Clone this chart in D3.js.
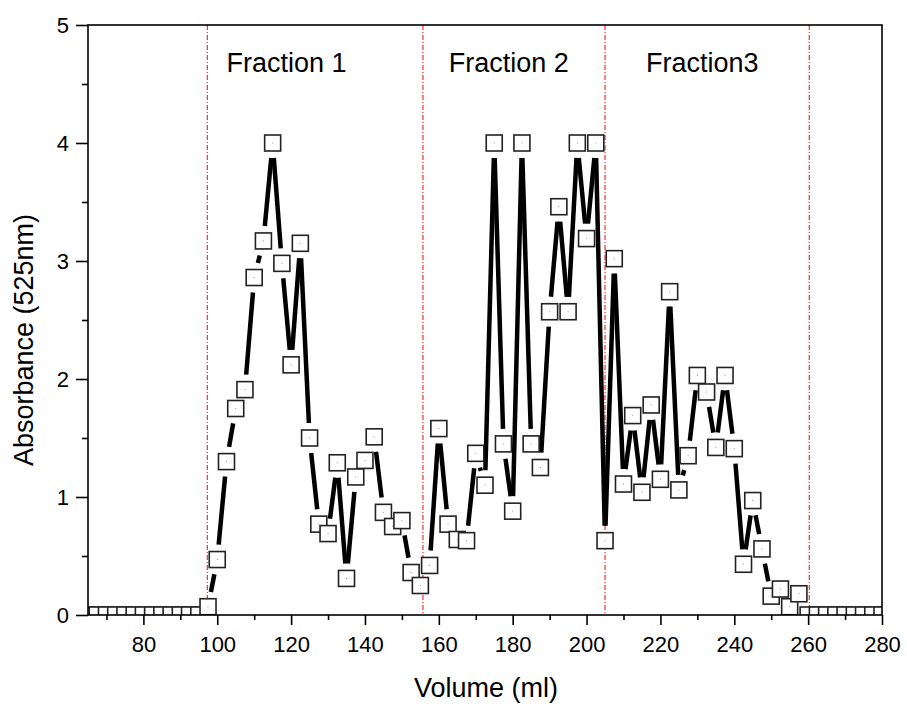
<!DOCTYPE html>
<html>
<head>
<meta charset="utf-8">
<script src="https://cdn.jsdelivr.net/npm/d3@7"></script>
<style>
    body { margin: 0; background: #fff; }
    text { font-family: "Liberation Sans", Arial, sans-serif; fill: #000; }
    .axis path, .axis line { stroke: #000; stroke-width: 1.6; }
    .axis text { font-size: 22px; }
</style>
</head>
<body>
<svg id="chart" width="907" height="704"></svg>
<script>
// elution volume (ml), one reading every 2.5 ml
const volumes = [
    65, 67.5, 70, 72.5, 75, 77.5, 80, 82.5, 85, 87.5, 90, 92.5, 95,
    97.5, 100, 102.5, 105, 107.5, 110, 112.5, 115, 117.5, 120, 122.5, 125,
    127.5, 130, 132.5, 135, 137.5, 140, 142.5, 145, 147.5, 150, 152.5, 155,
    157.5, 160, 162.5, 165, 167.5, 170, 172.5, 175, 177.5, 180, 182.5, 185,
    187.5, 190, 192.5, 195, 197.5, 200, 202.5, 205, 207.5, 210, 212.5, 215,
    217.5, 220, 222.5, 225, 227.5, 230, 232.5, 235, 237.5, 240, 242.5, 245,
    247.5, 250, 252.5, 255, 257.5,
    260, 262.5, 265, 267.5, 270, 272.5, 275, 277.5, 280
];

// absorbance at 525nm
const absorbance = [
    0, 0, 0, 0, 0, 0, 0, 0, 0, 0, 0, 0, 0,
    0.07, 0.47, 1.30, 1.75, 1.91, 2.86, 3.17, 4.00, 2.98, 2.12, 3.15, 1.50,
    0.77, 0.69, 1.29, 0.31, 1.17, 1.31, 1.51, 0.87, 0.75, 0.80, 0.36, 0.25,
    0.42, 1.58, 0.77, 0.64, 0.63, 1.37, 1.10, 4.00, 1.45, 0.88, 4.00, 1.45,
    1.25, 2.57, 3.46, 2.57, 4.00, 3.19, 4.00, 0.63, 3.02, 1.11, 1.69, 1.04,
    1.78, 1.15, 2.74, 1.06, 1.35, 2.03, 1.89, 1.42, 2.03, 1.41, 0.43, 0.97,
    0.56, 0.16, 0.22, 0.07, 0.18,
    0, 0, 0, 0, 0, 0, 0, 0, 0
];

// fraction boundaries (ml) and labels
const cutVolumes = [97.3, 155.7, 205, 260.3];
const fractionLabels = ["Fraction 1", "Fraction 2", "Fraction3"];
const fractionLabelVolumes = [102.5, 162.7, 216.1];

const xTicks = [80, 100, 120, 140, 160, 180, 200, 220, 240, 260, 280];
const xMinorTicks = [70, 90, 110, 130, 150, 170, 190, 210, 230, 250, 270];
const yTicks = [0, 1, 2, 3, 4, 5];
const yMinorTicks = [0.5, 1.5, 2.5, 3.5, 4.5];

const plotLeft = 88, plotRight = 882, plotTop = 25, plotBottom = 615;
const symbolSize = 16;
const lineGap = 15;

const svg = d3.select("#chart");

const xScale = d3.scaleLinear().domain([65, 280]).range([plotLeft, plotRight]);
const yScale = d3.scaleLinear().domain([0, 5]).range([plotBottom, plotTop]);

svg.append("defs").append("clipPath")
    .attr("id", "plot-clip")
    .append("rect")
    .attr("x", plotLeft).attr("y", plotTop)
    .attr("width", plotRight - plotLeft).attr("height", plotBottom - plotTop);

// fraction separators
svg.append("g")
    .selectAll("line")
    .data(cutVolumes)
    .join("line")
    .attr("x1", d => xScale(d)).attr("x2", d => xScale(d))
    .attr("y1", plotTop).attr("y2", plotBottom)
    .style("stroke", "#ff0000")
    .style("stroke-width", 1)
    .style("stroke-dasharray", "5,2,1,2");

svg.append("g")
    .selectAll("text")
    .data(fractionLabels)
    .join("text")
    .attr("x", (d, i) => xScale(fractionLabelVolumes[i]))
    .attr("y", 72)
    .attr("font-size", "27px")
    .text(d => d);

// line segments, broken around each symbol
const points = volumes.map((v, i) => [xScale(v), yScale(absorbance[i])]);
const segments = [];
for (let i = 0; i < points.length - 1; i++) {
    const [x1, y1] = points[i];
    const [x2, y2] = points[i + 1];
    const len = Math.hypot(x2 - x1, y2 - y1);
    if (len <= 2 * lineGap) continue;
    const ux = (x2 - x1) / len, uy = (y2 - y1) / len;
    segments.push([x1 + ux * lineGap, y1 + uy * lineGap, x2 - ux * lineGap, y2 - uy * lineGap]);
}

const plot = svg.append("g").attr("clip-path", "url(#plot-clip)");

plot.append("g")
    .selectAll("line")
    .data(segments)
    .join("line")
    .attr("x1", d => d[0]).attr("y1", d => d[1])
    .attr("x2", d => d[2]).attr("y2", d => d[3])
    .style("stroke", "#000")
    .style("stroke-width", 4.5);

// square symbols
plot.append("g")
    .selectAll("rect")
    .data(points)
    .join("rect")
    .attr("x", d => d[0] - symbolSize / 2)
    .attr("y", d => d[1] - symbolSize / 2)
    .attr("width", symbolSize)
    .attr("height", symbolSize)
    .style("fill", "#fff")
    .style("stroke", "#222")
    .style("stroke-width", 1.6);

plot.append("g")
    .selectAll("rect")
    .data(points)
    .join("rect")
    .attr("x", d => d[0] - 0.5)
    .attr("y", d => d[1] - 0.5)
    .attr("width", 1)
    .attr("height", 1)
    .style("fill", "#999");

// frame
svg.append("rect")
    .attr("x", plotLeft).attr("y", plotTop)
    .attr("width", plotRight - plotLeft).attr("height", plotBottom - plotTop)
    .style("fill", "none")
    .style("stroke", "#000")
    .style("stroke-width", 1.6);

// x axis
svg.append("g")
    .attr("class", "axis")
    .attr("transform", `translate(0, ${plotBottom})`)
    .call(d3.axisBottom(xScale).tickValues(xTicks).tickSize(10).tickPadding(11).tickSizeOuter(0))
    .call(g => g.select(".domain").remove());
svg.append("g")
    .attr("class", "axis")
    .attr("transform", `translate(0, ${plotBottom})`)
    .call(d3.axisBottom(xScale).tickValues(xMinorTicks).tickSize(5).tickFormat(""))
    .call(g => g.select(".domain").remove());

// y axis
svg.append("g")
    .attr("class", "axis")
    .attr("transform", `translate(${plotLeft}, 0)`)
    .call(d3.axisLeft(yScale).tickValues(yTicks).tickSize(12).tickPadding(7).tickFormat(d3.format("d")))
    .call(g => g.select(".domain").remove());
svg.append("g")
    .attr("class", "axis")
    .attr("transform", `translate(${plotLeft}, 0)`)
    .call(d3.axisLeft(yScale).tickValues(yMinorTicks).tickSize(6).tickFormat(""))
    .call(g => g.select(".domain").remove());

// axis titles
svg.append("text")
    .attr("x", 486)
    .attr("y", 697)
    .attr("text-anchor", "middle")
    .attr("font-size", "27px")
    .text("Volume (ml)");

svg.append("text")
    .attr("transform", "translate(33, 340) rotate(-90)")
    .attr("text-anchor", "middle")
    .attr("font-size", "27px")
    .text("Absorbance (525nm)");
</script>
</body>
</html>
